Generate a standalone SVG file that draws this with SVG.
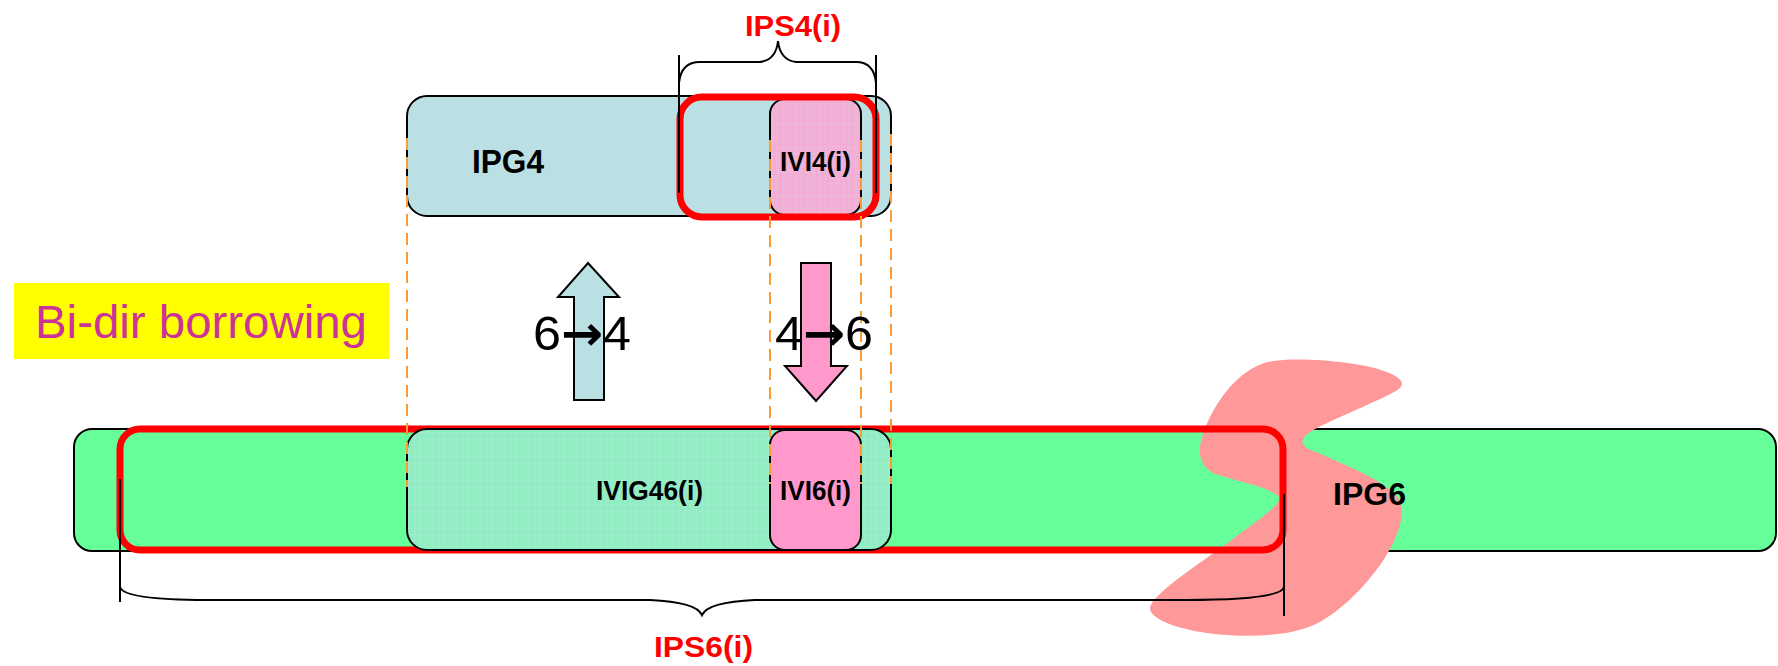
<svg xmlns="http://www.w3.org/2000/svg" width="1778" height="666" viewBox="0 0 1778 666">
<style>
.box{stroke:#000;stroke-width:2}
.lbl{font-family:"Liberation Sans",Arial,sans-serif;font-weight:bold;fill:#000}
.red{fill:none;stroke:#FF0000;stroke-width:7}
.brace{fill:none;stroke:#000;stroke-width:2}
.dash{stroke:#FF9933;stroke-width:2;stroke-dasharray:12 7}
.big{font-family:"Liberation Sans",Arial,sans-serif;font-size:48px;fill:#000}
.arr{font-family:"DejaVu Sans",sans-serif;font-weight:bold}
</style>
<defs>
<pattern id="hatchPink" width="6" height="6" patternUnits="userSpaceOnUse">
<rect width="6" height="6" fill="#ECB6D8"/>
<path d="M0,0H6M0,0V6" stroke="#FF9FCF" stroke-width="1"/>
</pattern>
<pattern id="hatchGreen" width="6" height="6" patternUnits="userSpaceOnUse">
<rect width="6" height="6" fill="#8EEEC2"/>
<path d="M0,0H6M0,0V6" stroke="#A8EED0" stroke-width="1"/>
</pattern>
</defs>

<g id="ipg6">
<rect class="box" x="74" y="429" width="1702" height="122" rx="18" fill="#66FF99"/>
</g>
<g id="blob">
<path fill="#FF9999" d="M1264,363 C1290,355 1360,362 1381,370 C1400,376 1410,384 1394,392 C1370,405 1330,420 1310,432 C1296,442 1304,448 1316,452 C1340,463 1380,478 1396,495 C1406,508 1402,525 1392,545 C1380,570 1350,605 1320,622 C1295,636 1250,638 1215,634 C1180,630 1150,620 1150,608 C1152,595 1190,570 1225,545 C1255,522 1282,505 1279,497 C1272,488 1240,482 1215,474 C1198,466 1198,450 1202,438 C1208,415 1225,390 1238,379 C1248,370 1256,366 1264,363 Z"/>
</g>
<g id="ips6">
<rect class="red" x="120" y="429" width="1163" height="121" rx="20"/>
</g>
<g id="ivig46">
<rect class="box" x="407" y="429" width="484" height="121" rx="20" fill="url(#hatchGreen)"/>
<text class="lbl" x="596" y="500" font-size="27" textLength="107" lengthAdjust="spacingAndGlyphs">IVIG46(i)</text>
</g>
<g id="ivi6">
<rect class="box" x="770" y="430" width="91" height="120" rx="15" fill="#FF99CC"/>
<text class="lbl" x="780" y="500" font-size="27" textLength="71" lengthAdjust="spacingAndGlyphs">IVI6(i)</text>
</g>
<g id="ipg6-label">
<text class="lbl" x="1333" y="505" font-size="31" textLength="73" lengthAdjust="spacingAndGlyphs">IPG6</text>
</g>

<g id="ipg4">
<rect class="box" x="407" y="96" width="484" height="120" rx="20" fill="#BBE0E3"/>
<text class="lbl" x="472" y="173" font-size="34" textLength="72" lengthAdjust="spacingAndGlyphs">IPG4</text>
</g>
<g id="ivi4">
<rect class="box" x="770" y="99" width="91" height="116" rx="15" fill="url(#hatchPink)"/>
</g>
<g id="ips4">
<rect class="red" x="680" y="97" width="196" height="120" rx="22"/>
</g>
<g id="ivi4-label">
<text class="lbl" x="780" y="171" font-size="27" textLength="71" lengthAdjust="spacingAndGlyphs">IVI4(i)</text>
</g>

<g id="connectors">
<line class="dash" x1="407" y1="138" x2="407" y2="487"/>
<line class="dash" x1="770" y1="140" x2="770" y2="484"/>
<line class="dash" x1="861" y1="140" x2="861" y2="484"/>
<line class="dash" x1="891" y1="134" x2="891" y2="484"/>
<line class="brace" x1="679" y1="55" x2="679" y2="193"/>
<line class="brace" x1="876" y1="55" x2="876" y2="193"/>
<path class="brace" d="M679,83 Q681,62 700,62 L760,62 Q776,60 778,41 Q780,60 796,62 L856,62 Q874,62 876,83"/>
<line class="brace" x1="120" y1="479" x2="120" y2="602"/>
<line class="brace" x1="1284" y1="494" x2="1284" y2="616"/>
<path class="brace" d="M120,587 Q124,600 207,600 L650,600 Q696,602 702,615 Q708,602 755,600 L1186,600 Q1281,600 1284,587"/>
</g>

<g id="arrow-up">
<polygon class="box" points="588,263 619,297 604,297 604,400 574,400 574,297 558,297" fill="#BBE0E3"/>
<text class="big" x="533" y="350" textLength="98" lengthAdjust="spacingAndGlyphs">6<tspan class="arr">→</tspan>4</text>
</g>
<g id="arrow-down">
<polygon class="box" points="801,263 831,263 831,366 847,366 816,401 785,366 801,366" fill="#FF99CC"/>
<text class="big" x="775" y="350" textLength="98" lengthAdjust="spacingAndGlyphs">4<tspan class="arr">→</tspan>6</text>
</g>

<g id="ips4-label">
<text class="lbl" x="745" y="36" font-size="29" textLength="96" lengthAdjust="spacingAndGlyphs" style="fill:#FF0000">IPS4(i)</text>
</g>
<g id="ips6-label">
<text class="lbl" x="654" y="657" font-size="30" textLength="99" lengthAdjust="spacingAndGlyphs" style="fill:#FF0000">IPS6(i)</text>
</g>

<g id="title">
<rect x="14" y="283" width="375" height="76" fill="#FFFF00"/>
<text x="35" y="338" font-family="Liberation Sans, Arial, sans-serif" font-size="47" fill="#CC3399" textLength="332" lengthAdjust="spacingAndGlyphs">Bi-dir borrowing</text>
</g>
</svg>
